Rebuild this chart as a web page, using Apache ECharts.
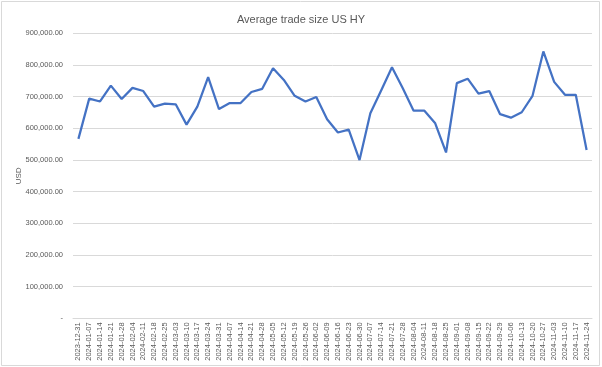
<!DOCTYPE html>
<html>
<head>
<meta charset="utf-8">
<script src="https://cdn.jsdelivr.net/npm/echarts@6/dist/echarts.min.js"></script>
<style>html,body{margin:0;padding:0;background:#fff;}#chart{width:602px;height:367px;}</style>
</head>
<body>
<div id="chart"></div>
<script>
const categories = ["2023-12-31","2024-01-07","2024-01-14","2024-01-21","2024-01-28","2024-02-04","2024-02-11","2024-02-18","2024-02-25","2024-03-03","2024-03-10","2024-03-17","2024-03-24","2024-03-31","2024-04-07","2024-04-14","2024-04-21","2024-04-28","2024-05-05","2024-05-12","2024-05-19","2024-05-26","2024-06-02","2024-06-09","2024-06-16","2024-06-23","2024-06-30","2024-07-07","2024-07-14","2024-07-21","2024-07-28","2024-08-04","2024-08-11","2024-08-18","2024-08-25","2024-09-01","2024-09-08","2024-09-15","2024-09-22","2024-09-29","2024-10-06","2024-10-13","2024-10-20","2024-10-27","2024-11-03","2024-11-10","2024-11-17","2024-11-24"];
const avgTradeSize = [567000,694000,685000,735000,693000,728000,718000,669000,678000,676000,612000,669000,762000,661000,680000,680000,715000,725000,790000,753000,703000,685000,699000,629000,587000,596000,500000,648000,720000,793000,727000,656000,656000,616000,524000,743000,757000,710000,718000,645000,634000,651000,703000,843000,747000,706000,706000,532000];
const seriesName = "Average trade size US HY";
const yAxisName = "USD";

const chart = echarts.init(document.getElementById('chart'), null, {renderer:'canvas'});
const fmt = v => v === 0 ? '-' : v.toLocaleString('en-US',{minimumFractionDigits:2, maximumFractionDigits:2});
chart.setOption({
  animation:false,
  backgroundColor:'#ffffff',
  title:{text:seriesName, left:'center', top:9, textStyle:{fontFamily:'Liberation Sans', fontSize:11, fontWeight:'normal', color:'#595959'}},
  graphic:[{type:'rect', shape:{x:1.5,y:1.5,width:598,height:364}, style:{fill:'none', stroke:'#d9d9d9', lineWidth:1}, silent:true}],
  grid:{left:73, right:10, top:33.4, bottom:48.6, containLabel:false},
  xAxis:{type:'category', data:categories, boundaryGap:true,
    axisLine:{lineStyle:{color:'#d9d9d9'}}, axisTick:{show:false},
    axisLabel:{rotate:90, interval:0, fontFamily:'Liberation Sans', fontSize:7.5, color:'#595959', margin:4}},
  yAxis:{type:'value', min:0, max:900000, interval:100000, name:yAxisName, nameLocation:'middle', nameGap:50, nameMoveOverlap:false,
    nameTextStyle:{fontFamily:'Liberation Sans', fontSize:8, color:'#595959'},
    axisLine:{show:false}, axisTick:{show:false},
    splitLine:{lineStyle:{color:'#d9d9d9', width:1}},
    axisLabel:{formatter:fmt, fontFamily:'Liberation Sans', fontSize:7.5, color:'#595959', margin:10}},
  series:[{name:seriesName, type:'line', data:avgTradeSize, showSymbol:false, symbol:'none',
    lineStyle:{color:'#4472C4', width:2.25}, itemStyle:{color:'#4472C4'}}]
});
</script>
</body>
</html>
